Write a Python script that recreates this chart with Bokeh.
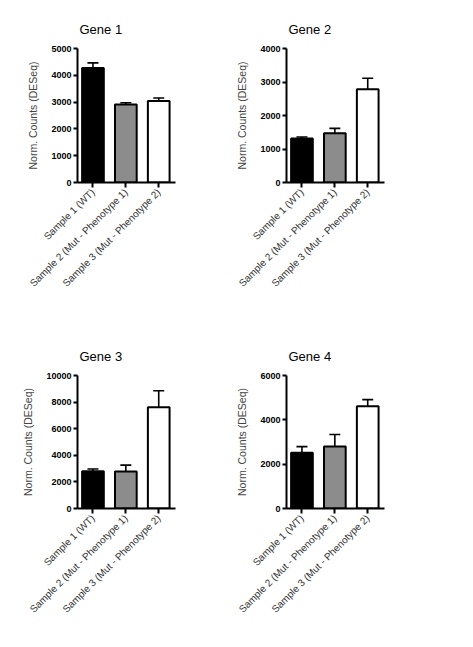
import math
from bokeh.plotting import figure
from bokeh.layouts import row, column
from bokeh.models import (Range1d, FixedTicker, Whisker, TeeHead,
                          ColumnDataSource, NumeralTickFormatter)
from bokeh.embed import file_html
from bokeh.resources import INLINE

samples = ["Sample 1 (WT)", "Sample 2 (Mut - Phenotype 1)", "Sample 3 (Mut - Phenotype 2)"]
bar_colors = ["#000000", "#8c8c8c", "#ffffff"]
genes = ["Gene 1", "Gene 2", "Gene 3", "Gene 4"]

gene1_mean = [4275, 2915, 3040]
gene1_err = [190, 63, 112]
gene2_mean = [1310, 1470, 2780]
gene2_err = [50, 145, 330]
gene3_mean = [2810, 2790, 7620]
gene3_err = [160, 470, 1230]
gene4_mean = [2520, 2800, 4610]
gene4_err = [270, 540, 300]

y_max = [5000, 4000, 10000, 6000]
y_step = [1000, 1000, 2000, 2000]

means = [gene1_mean, gene2_mean, gene3_mean, gene4_mean]
errs = [gene1_err, gene2_err, gene3_err, gene4_err]

FONT = "Liberation Sans"


def make(i, width, height, bl, br, bt, bb):
    p = figure(width=width, height=height,
               x_range=Range1d(-0.47, 2.51), y_range=Range1d(0, y_max[i]),
               output_backend="svg", toolbar_location=None,
               min_border_left=bl, min_border_right=br,
               min_border_top=bt, min_border_bottom=bb)
    p.outline_line_color = None
    p.xgrid.visible = False
    p.ygrid.visible = False
    p.background_fill_color = "white"
    p.border_fill_color = "white"

    p.title.text = genes[i]
    p.title.align = "left"
    p.title.offset = 2
    p.title.text_font = FONT
    p.title.text_font_size = "13px"
    p.title.text_font_style = "normal"
    p.title.text_color = "black"
    p.title.standoff = 24

    xs = list(range(len(samples)))
    top = means[i]
    upper = [m + e for m, e in zip(means[i], errs[i])]
    src = ColumnDataSource(dict(x=xs, top=top, upper=upper, color=bar_colors))

    w = Whisker(source=src, base="x", upper="upper", lower="top",
                dimension="height", line_color="black", line_width=1.6,
                upper_head=TeeHead(size=11, line_width=1.6, line_color="black"),
                lower_head=None)
    p.add_layout(w)
    p.vbar(x="x", top="top", bottom=0, width=0.66, source=src,
           fill_color="color", line_color="black", line_width=2)

    ax = p.xaxis[0]
    ax.ticker = FixedTicker(ticks=xs)
    ax.major_label_overrides = {k: s for k, s in zip(xs, samples)}
    ax.major_label_orientation = math.pi / 4
    ax.major_label_text_font = FONT
    ax.major_label_text_font_size = "10px"
    ax.major_label_text_color = "#333333"
    ax.major_label_standoff = 3
    ax.axis_line_width = 2
    ax.major_tick_line_width = 2
    ax.major_tick_in = 0
    ax.major_tick_out = 5
    ax.minor_tick_line_color = None

    ay = p.yaxis[0]
    ay.ticker = FixedTicker(ticks=list(range(0, y_max[i] + 1, y_step[i])))
    ay.formatter = NumeralTickFormatter(format="0")
    ay.axis_label = "Norm. Counts (DESeq)"
    ay.axis_label_text_font = FONT
    ay.axis_label_text_font_size = "10.5px"
    ay.axis_label_text_font_style = "normal"
    ay.axis_label_standoff = 9
    ay.major_label_text_font = FONT
    ay.major_label_text_font_size = "9px"
    ay.major_label_text_font_style = "bold"
    ay.major_label_text_color = "black"
    ay.major_label_standoff = 2
    ay.axis_line_width = 2
    ay.major_tick_line_width = 2
    ay.major_tick_in = 0
    ay.major_tick_out = 4
    ay.minor_tick_line_color = None
    return p


p1 = make(0, 220, 327, 77, 45, 48, 145)
p2 = make(1, 230, 327, 66, 66, 48, 145)
p3 = make(2, 220, 300, 77, 45, 48, 119)
p4 = make(3, 230, 300, 66, 66, 48, 119)

layout = column(row(p1, p2), row(p3, p4))

with open("out.html", "w") as f:
    f.write(file_html(layout, INLINE))
